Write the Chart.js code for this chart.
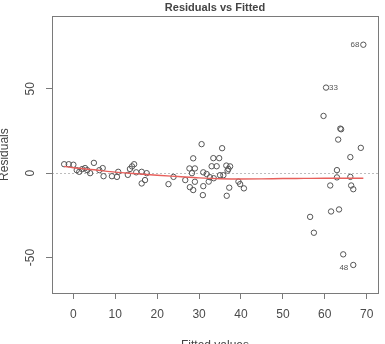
<!DOCTYPE html>
<html><head><meta charset="utf-8">
<script src="https://cdn.jsdelivr.net/npm/chart.js@4.4.1/dist/chart.umd.min.js"></script>
<style>html,body{margin:0;padding:0;background:#fff;overflow:hidden}</style>
</head><body>
<canvas id="c" width="385" height="344" style="display:block;width:385px;height:344px"></canvas>
<script>
// Fitted values (x) and residuals (y)
const fittedX = [
  -2.2, -1.1, 0.0, 0.8, 1.4, 2.1, 2.8, 3.3, 4.0, 4.9,
  6.2, 7.0, 7.2, 9.2, 10.4, 10.7, 13.0, 13.5, 14.0, 14.5,
  15.0, 16.3, 16.3, 17.1, 17.5, 22.7, 23.9,
  26.7, 30.6, 35.5, 28.6, 33.4, 34.8, 27.7, 29.0, 28.3, 33.0,
  34.2, 36.5, 37.0, 37.4, 36.8, 31.0, 31.8, 35.0, 35.8, 32.6,
  33.5, 32.3, 29.0, 27.8, 28.6, 31.0, 30.9, 36.6, 37.2, 39.4,
  39.8, 40.7,
  69.2, 60.3, 59.7, 63.7, 63.9, 63.2, 68.6, 66.1, 62.9, 62.9,
  66.1, 61.3, 66.3, 66.8, 61.5, 63.4, 56.5, 57.4, 64.4, 66.8
];
const residY = [
  5.3, 5.3, 5.0, 1.8, 0.8, 2.4, 3.0, 1.8, 0.0, 6.1,
  1.8, 3.0, -1.8, -1.8, -2.2, 0.8, -1.0, 2.5, 4.0, 5.3,
  0.5, 0.8, -6.1, -4.1, 0.0, -6.5, -2.2,
  -4.1, 17.2, 14.8, 8.8, 8.9, 8.9, 2.8, 2.8, 0.0, 4.1,
  4.1, 4.5, 2.5, 4.0, 1.5, 0.5, -0.5, -1.2, -1.2, -2.4,
  -3.0, -5.0, -5.1, -8.3, -10.0, -7.7, -13.0, -13.4, -8.6, -5.0,
  -6.5, -9.0,
  76.1, 50.7, 33.9, 26.4, 26.0, 19.9, 15.0, 9.5, 1.8, -2.5,
  -2.2, -7.3, -7.3, -9.5, -22.7, -21.5, -25.9, -35.3, -48.1, -54.4
];
// Observation ids written beside the outlying points
const idIndex = [59, 60, 78];
const idText  = ['68', '33', '48'];
// Smoothed (lowess) trend line
const lowessX = [-2.2, 0, 5, 10, 15, 20, 25, 30, 35, 40, 45, 50, 55, 60, 65, 69.2];
const lowessY = [4.0, 3.2, 2.0, 0.6, -0.3, -1.2, -2.0, -2.8, -3.3, -3.5, -3.4, -3.2, -3.1, -3.0, -3.0, -3.0];
// Axes
const xTicks = [0, 10, 20, 30, 40, 50, 60, 70];
const yTicks = [-50, 0, 50];
const xRange = [-5.1, 72.7];
const yRange = [-71, 93];

const FONT = "'Liberation Sans', Arial, sans-serif";

const boxPlugin = {
  id: 'rbox',
  beforeDatasetsDraw(chart) {
    const {ctx, chartArea: a, scales} = chart;
    ctx.save();
    // dotted zero reference line
    const y0 = Math.round(scales.y.getPixelForValue(0)) + 0.5;
    ctx.strokeStyle = '#bdbdbd';
    ctx.lineWidth = 1;
    ctx.setLineDash([2, 2]);
    ctx.beginPath(); ctx.moveTo(a.left, y0); ctx.lineTo(a.right, y0); ctx.stroke();
    ctx.setLineDash([]);
    // plot frame
    ctx.strokeStyle = '#7a7a7a';
    ctx.strokeRect(Math.round(a.left) + 0.5, Math.round(a.top) + 0.5,
                   Math.round(a.right - a.left), Math.round(a.bottom - a.top));
    ctx.restore();
  },
  afterDatasetsDraw(chart) {
    const {ctx} = chart;
    const meta = chart.getDatasetMeta(0);
    ctx.save();
    ctx.font = "8px " + FONT;
    ctx.fillStyle = '#555';
    ctx.textBaseline = 'middle';
    idIndex.forEach((idx, k) => {
      const el = meta.data[idx];
      if (!el) return;
      if (k === 1) { ctx.textAlign = 'left'; ctx.fillText(idText[k], el.x + 3, el.y); }
      else if (k === 0) { ctx.textAlign = 'right'; ctx.fillText(idText[k], el.x - 4, el.y); }
      else { ctx.textAlign = 'right'; ctx.fillText(idText[k], el.x - 5, el.y + 3); }
    });
    ctx.restore();
  }
};

new Chart(document.getElementById('c'), {
  type: 'scatter',
  data: {
    datasets: [
      {
        label: 'Residuals',
        data: fittedX.map((x, i) => ({x: x, y: residY[i]})),
        pointRadius: 2.7,
        pointStyle: 'circle',
        borderColor: '#555',
        backgroundColor: 'rgba(255,255,255,0)',
        borderWidth: 1,
        order: 2
      },
      {
        label: 'Smooth',
        data: lowessX.map((x, i) => ({x: x, y: lowessY[i]})),
        showLine: true,
        pointRadius: 0,
        borderColor: '#e8605c',
        borderWidth: 1.4,
        cubicInterpolationMode: 'monotone',
        fill: false,
        order: 1
      }
    ]
  },
  options: {
    responsive: false,
    animation: false,
    devicePixelRatio: 1,
    events: [],
    layout: {padding: {left: 0, right: 7, top: 0, bottom: 0}},
    plugins: {
      legend: {display: false},
      tooltip: {enabled: false},
      title: {
        display: true,
        fullSize: false,
        text: 'Residuals vs Fitted',
        color: '#444',
        font: {family: FONT, size: 11, weight: 'bold', lineHeight: 1.2},
        padding: {top: 1, bottom: 2}
      }
    },
    scales: {
      x: {
        type: 'linear',
        position: 'bottom',
        min: xRange[0],
        max: xRange[1],
        afterBuildTicks: s => { s.ticks = xTicks.map(v => ({value: v})); },
        afterFit: s => { s.height = 51; },
        grid: {drawOnChartArea: false, drawTicks: true, tickLength: 6, color: '#7a7a7a', lineWidth: 1},
        border: {display: false},
        ticks: {padding: 8, autoSkip: false, maxRotation: 0, color: '#4a4a4a', font: {family: FONT, size: 12}},
        title: {display: true, text: 'Fitted values', color: '#444', font: {family: FONT, size: 12, lineHeight: 1}, padding: {top: 0, bottom: -8}}
      },
      y: {
        type: 'linear',
        position: 'left',
        min: yRange[0],
        max: yRange[1],
        afterBuildTicks: s => { s.ticks = yTicks.map(v => ({value: v})); },
        afterFit: s => { s.width = 52; },
        grid: {drawOnChartArea: false, drawTicks: true, tickLength: 6, color: '#7a7a7a', lineWidth: 1},
        border: {display: false},
        ticks: {padding: 7, minRotation: 90, maxRotation: 90, crossAlign: 'center', color: '#4a4a4a', font: {family: FONT, size: 12}},
        title: {display: true, text: 'Residuals', color: '#444', font: {family: FONT, size: 12, lineHeight: 1}, padding: {top: -1, bottom: 0}}
      }
    }
  },
  plugins: [boxPlugin]
});
</script>
</body></html>
